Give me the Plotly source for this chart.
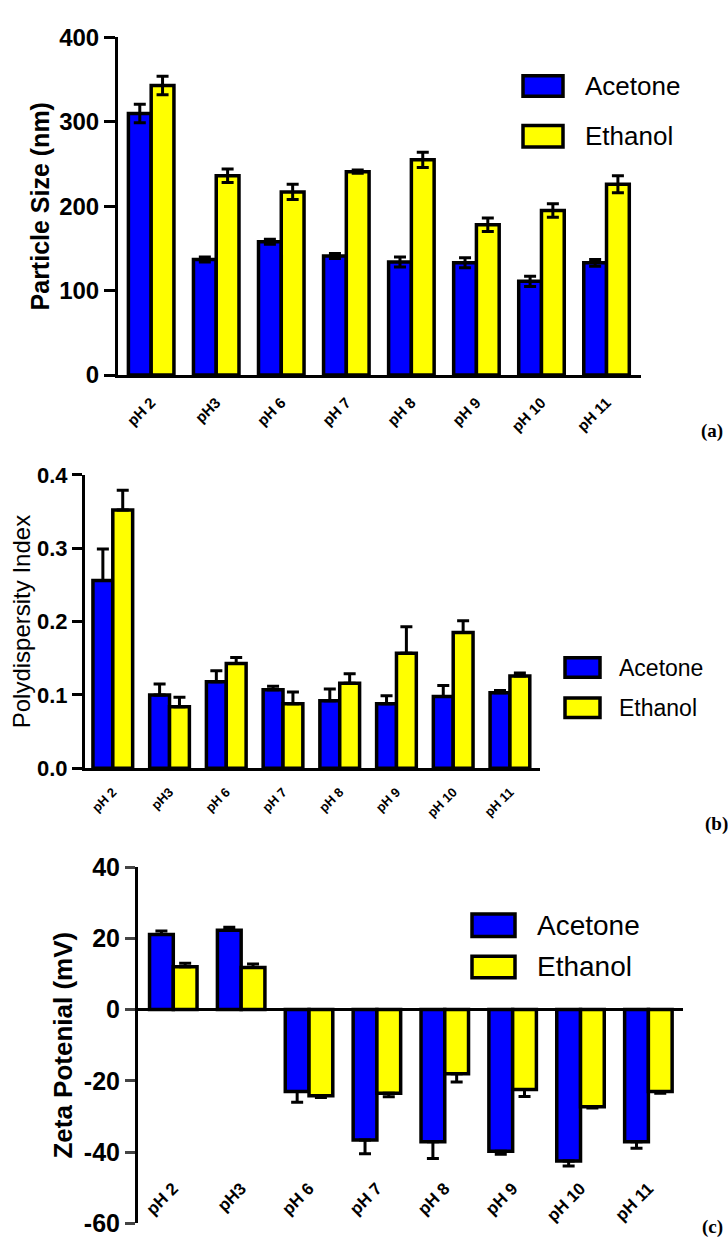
import plotly.graph_objects as go

W, H = 728, 1249

categories = ["pH 2", "pH3", "pH 6", "pH 7", "pH 8", "pH 9", "pH 10", "pH 11"]

# (a) Particle size (nm)
size_acetone = [310, 137, 158, 141, 134, 133, 111, 133]
size_acetone_err = [11, 3, 3, 3, 6, 6, 6, 4]
size_ethanol = [343, 236, 217, 241, 255, 178, 195, 226]
size_ethanol_err = [11, 8, 9, 2, 9, 8, 8, 10]
size_ticks = [0, 100, 200, 300, 400]

# (b) Polydispersity index
pdi_acetone = [0.256, 0.100, 0.118, 0.107, 0.092, 0.088, 0.098, 0.103]
pdi_acetone_err = [0.043, 0.015, 0.015, 0.005, 0.016, 0.011, 0.015, 0.003]
pdi_ethanol = [0.352, 0.084, 0.143, 0.088, 0.116, 0.157, 0.185, 0.126]
pdi_ethanol_err = [0.027, 0.013, 0.008, 0.016, 0.013, 0.036, 0.016, 0.004]
pdi_ticks = [0, 0.1, 0.2, 0.3, 0.4]

# (c) Zeta potential (mV)
zeta_acetone = [21.1, 22.3, -23.0, -36.6, -37.1, -39.8, -42.5, -37.1]
zeta_acetone_err = [1.0, 0.8, 3.0, 3.9, 4.7, 0.8, 1.4, 1.8]
zeta_ethanol = [12.0, 11.8, -24.2, -23.5, -18.0, -22.4, -27.3, -23.0]
zeta_ethanol_err = [1.0, 1.0, 0.5, 1.0, 2.3, 2.0, 0.3, 0.5]
zeta_ticks = [-60, -40, -20, 0, 20, 40]
zeta_ticktext = ["-60", "-40", "-20", "0", "20", "40"]

series_names = ["Acetone", "Ethanol"]
BLUE = "#0000FF"
YELLOW = "#FFFF00"
FONT = "Arial, Liberation Sans, Helvetica, sans-serif"
SERIF = "Times New Roman, Liberation Serif, serif"


def px_x(x):
    return x / W


def px_y(y):
    return 1 - y / H


def err_up_down(vals, errs, symmetric):
    if symmetric:
        return dict(type="data", array=errs, arrayminus=errs, symmetric=False)
    plus = [e if v >= 0 else 0 for v, e in zip(vals, errs)]
    minus = [e if v < 0 else 0 for v, e in zip(vals, errs)]
    return dict(type="data", array=plus, arrayminus=minus, symmetric=False)


fig = go.Figure()

panels = [
    ("x", "y", size_acetone, size_acetone_err, size_ethanol, size_ethanol_err, True),
    ("x2", "y2", pdi_acetone, pdi_acetone_err, pdi_ethanol, pdi_ethanol_err, False),
    ("x3", "y3", zeta_acetone, zeta_acetone_err, zeta_ethanol, zeta_ethanol_err, False),
]
for xa, ya, av, ae, ev, ee, sym in panels:
    for name, vals, errs, col in [(series_names[0], av, ae, BLUE), (series_names[1], ev, ee, YELLOW)]:
        e = err_up_down(vals, errs, sym)
        e.update(color="black", thickness=3, width=6)
        fig.add_trace(go.Bar(
            x=categories, y=vals, name=name, xaxis=xa, yaxis=ya,
            marker=dict(color=col, line=dict(color="black", width=3.5)),
            error_y=e, showlegend=False,
        ))

axis_common = dict(showgrid=False, zeroline=False, showline=True, linecolor="black",
                   linewidth=3, color="black")

fig.update_layout(
    width=W, height=H,
    margin=dict(l=0, r=0, t=0, b=0),
    paper_bgcolor="white", plot_bgcolor="white",
    barmode="group", bargap=0.3, bargroupgap=0.0,
    font=dict(family=FONT, color="black"),
    # (a)
    xaxis=dict(domain=[px_x(118), px_x(641)], anchor="y", range=[-0.51, 7.53],
               type="category", ticks="", tickangle=-45, ticklabelstandoff=10,
               tickfont=dict(size=15, family=FONT, weight="bold"), **axis_common),
    yaxis=dict(domain=[px_y(369), px_y(24)], anchor="x", range=[0, 400],
               tickvals=size_ticks, ticks="outside", ticklen=11, tickwidth=3,
               tickfont=dict(size=24, weight="bold"),
               title=dict(text="Particle Size (nm)", font=dict(size=25, weight="bold"), standoff=3),
               **axis_common),
    # (b)
    xaxis2=dict(domain=[px_x(85), px_x(540)], anchor="y2", range=[-0.49, 7.53],
                type="category", ticks="", tickangle=-45, ticklabelstandoff=8,
                tickfont=dict(size=13, weight="bold"), **axis_common),
    yaxis2=dict(domain=[px_y(771), px_y(471)], anchor="x2", range=[0, 0.4],
                tickvals=pdi_ticks, tickformat=".1f", ticks="outside",
                ticklen=10, tickwidth=3, tickfont=dict(size=22, weight="bold"),
                title=dict(text="Polydispersity Index", font=dict(size=24), standoff=0),
                **axis_common),
    # (c)
    xaxis3=dict(domain=[px_x(138), px_x(683)], anchor="free", position=px_y(1186),
                range=[-0.52, 7.51], type="category", ticks="", tickangle=-45,
                showline=False, showgrid=False, zeroline=False,
                tickfont=dict(size=17, weight="bold", color="black")),
    yaxis3=dict(domain=[px_y(1236), px_y(872)], anchor="x3", range=[-60, 40],
                tickvals=zeta_ticks, ticktext=zeta_ticktext, ticks="outside", ticklen=10, tickwidth=3,
                tickfont=dict(size=25, weight="bold"),
                showgrid=False, showline=True, linecolor="black", linewidth=3,
                zeroline=True, zerolinecolor="black", zerolinewidth=3,
                title=dict(text="Zeta Potenial (mV)", font=dict(size=26, weight="bold"), standoff=4)),
)

# Legends drawn as boxes + text
legends = [
    (523, 563, [(63, 84), (114, 136)], 583, 26),
    (565, 600, [(658, 678), (699, 719)], 617, 23),
    (472, 515, [(920, 943), (963, 985)], 535, 28),
]
shapes = []
annotations = []
for x0, x1, rows, tx, fs in legends:
    for (y0, y1), name, col in zip(rows, series_names, [BLUE, YELLOW]):
        shapes.append(dict(type="rect", xref="paper", yref="paper",
                           x0=px_x(x0), x1=px_x(x1), y0=px_y(y1), y1=px_y(y0),
                           fillcolor=col, line=dict(color="black", width=3.5)))
        annotations.append(dict(xref="paper", yref="paper", x=px_x(tx), y=px_y((y0 + y1) / 2),
                                text=name, showarrow=False, xanchor="left", yanchor="middle",
                                font=dict(size=fs, family=FONT, color="black")))

for lab, x, y in [("(a)", 699, 426), ("(b)", 703, 828), ("(c)", 700, 1240)]:
    annotations.append(dict(xref="paper", yref="paper", x=px_x(x), y=px_y(y), text=lab,
                            showarrow=False, xanchor="left", yanchor="middle",
                            font=dict(size=19, family=SERIF, color="black", weight="bold")))

fig.update_layout(shapes=shapes, annotations=annotations)

fig.write_html(
    "out.html",
    config={"displayModeBar": False},
    post_script="document.body.style.margin='0';document.body.style.padding='0';"
                "document.documentElement.style.overflow='hidden';",
)
